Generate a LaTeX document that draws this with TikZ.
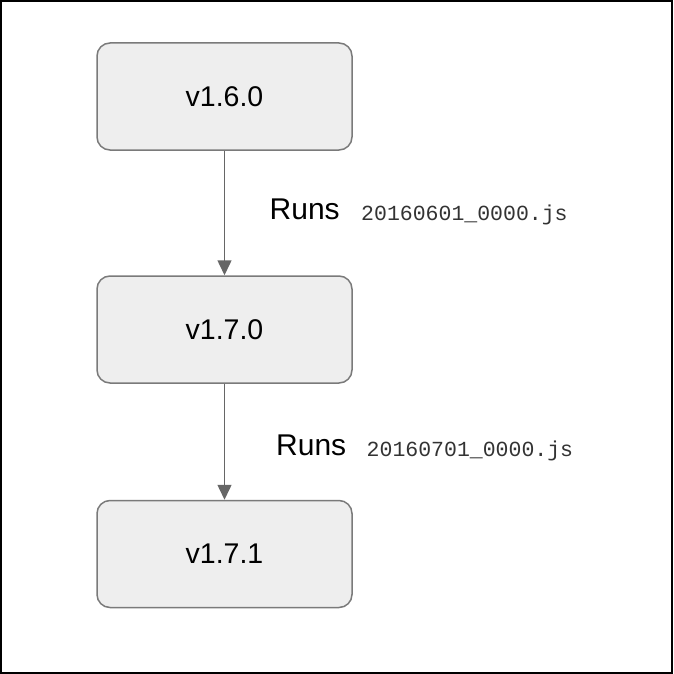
\documentclass[tikz,border=0pt]{standalone}
\usepackage{fontspec}
\setmainfont{Liberation Sans}
\setmonofont{Liberation Mono}
\usetikzlibrary{arrows.meta}
\definecolor{boxfill}{HTML}{EEEEEE}
\definecolor{boxline}{HTML}{7A7A7A}
\definecolor{edgeline}{HTML}{666666}
\definecolor{codetext}{HTML}{333333}
\tikzstyle{version}=[fill=boxfill, draw=boxline, line width=1.5pt, rounded corners=13pt, minimum width=255pt, minimum height=107pt, inner sep=0pt, font=\fontsize{28.5}{33}\selectfont]
\tikzstyle{run edge}=[-{Triangle[width=14pt,length=15pt]}, draw=edgeline, fill=edgeline, line width=1.5pt]
\tikzstyle{runs label}=[anchor=base west, inner sep=0pt, font=\fontsize{30}{35}\selectfont]
\tikzstyle{file label}=[anchor=base west, inner sep=0pt, text=codetext, font=\ttfamily\fontsize{21.5}{26}\selectfont]
\pgfdeclarelayer{nodelayer}
\pgfdeclarelayer{edgelayer}
\pgfsetlayers{main,nodelayer,edgelayer}
\begin{document}
\begin{tikzpicture}[x=1pt, y=-1pt]
	\useasboundingbox (0, 0) rectangle (673, 674);
	\draw [line width=2pt, draw=black] (1, 1) rectangle (672, 673);
	\begin{pgfonlayer}{nodelayer}
		\node [style=version] (v160) at (224.5, 96.5) {v1.6.0};
		\node [style=version] (v170) at (224.5, 329.5) {v1.7.0};
		\node [style=version] (v171) at (224.5, 554) {v1.7.1};
		\node [style=runs label] (runs1) at (269.5, 219) {Runs};
		\node [style=file label] (file1) at (361, 220) {20160601\_0000.js};
		\node [style=runs label] (runs2) at (276, 455) {Runs};
		\node [style=file label] (file2) at (366.5, 456) {20160701\_0000.js};
	\end{pgfonlayer}
	\begin{pgfonlayer}{edgelayer}
		\draw [style=run edge] (v160) to (v170);
		\draw [style=run edge] (v170) to (v171);
	\end{pgfonlayer}
\end{tikzpicture}
\end{document}
